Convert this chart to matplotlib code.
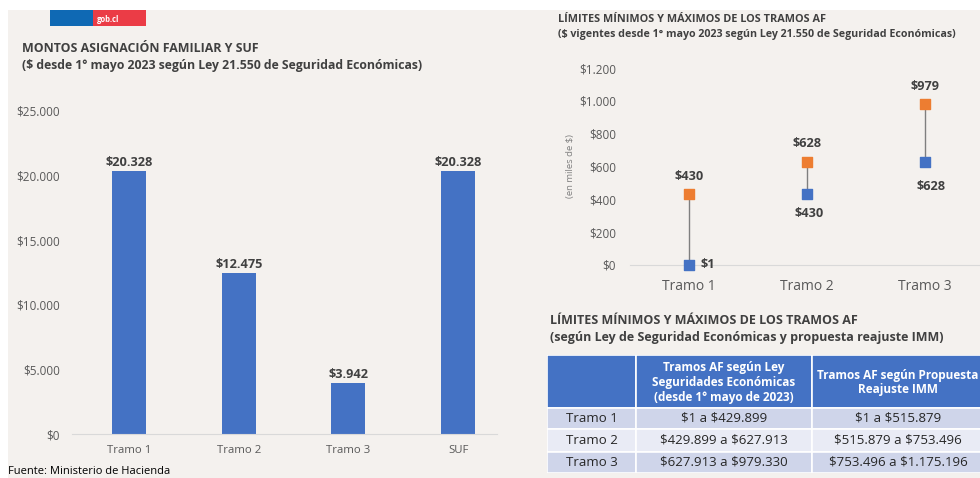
import matplotlib.pyplot as plt
from matplotlib.patches import Rectangle

plt.rcParams['font.family'] = ['Open Sans', 'DejaVu Sans']
plt.rcParams['text.parse_math'] = False

# Left chart: monthly amounts
bar_categories = ["Tramo 1", "Tramo 2", "Tramo 3", "SUF"]
bar_values = [20328, 12475, 3942, 20328]
bar_ticks = [0, 5000, 10000, 15000, 20000, 25000]

# Right chart: min / max limits (thousands of $)
range_categories = ["Tramo 1", "Tramo 2", "Tramo 3"]
range_min = [1, 430, 628]
range_max = [430, 628, 979]
range_ticks = [0, 200, 400, 600, 800, 1000, 1200]

# Table
table_header = [
    "",
    "Tramos AF según Ley\nSeguridades Económicas\n(desde 1° mayo de 2023)",
    "Tramos AF según Propuesta\nReajuste IMM",
]
table_rows = ["Tramo 1", "Tramo 2", "Tramo 3"]
table_ley = ["$1 a $429.899", "$429.899 a $627.913", "$627.913 a $979.330"]
table_imm = ["$1 a $515.879", "$515.879 a $753.496", "$753.496 a $1.175.196"]

BLUE = "#4472c4"
ORANGE = "#ed7d31"
BG = "#f4f1ee"
TITLE = "#404040"
TICK = "#595959"

W, H = 980, 478


def box(x0, y0, x1, y1):
    """Pixel box (top-left origin) -> figure fraction rect."""
    return [x0 / W, 1 - y1 / H, (x1 - x0) / W, (y1 - y0) / H]


def fx(x):
    return x / W


def fy(y):
    return 1 - y / H


def peso(v):
    return "$" + f"{v:,}".replace(",", ".")


fig = plt.figure(figsize=(W / 100, H / 100), dpi=100)
fig.patch.set_facecolor("white")
fig.patches.append(Rectangle((fx(8), 0), 1, fy(10), transform=fig.transFigure,
                             facecolor=BG, edgecolor="none", zorder=-10))

# gob.cl logo
fig.patches.append(Rectangle((fx(50), fy(26)), fx(93) - fx(50), fy(10) - fy(26),
                             transform=fig.transFigure, facecolor="#0f69b4",
                             edgecolor="none"))
fig.patches.append(Rectangle((fx(93), fy(26)), fx(146) - fx(93), fy(10) - fy(26),
                             transform=fig.transFigure, facecolor="#eb3c46",
                             edgecolor="none"))
fig.text(fx(97), fy(19), "gob.cl", color="white", fontsize=5.5,
         fontweight="bold", va="center")

# ---- left chart ----
fig.text(fx(22), fy(48), "MONTOS ASIGNACIÓN FAMILIAR Y SUF",
         fontsize=8.9, fontweight="bold", color=TITLE, va="center")
fig.text(fx(22), fy(66), "($ desde 1° mayo 2023 según Ley 21.550 de Seguridad Económicas)",
         fontsize=8.8, fontweight="bold", color=TITLE, va="center")

ax1 = fig.add_axes(box(72, 111, 497, 434))
ax1.set_facecolor("none")
x1 = range(len(bar_categories))
ax1.bar(x1, bar_values, width=0.31, color=BLUE)
for i, v in enumerate(bar_values):
    ax1.annotate(peso(v), (i, v), xytext=(0, 1.5), textcoords="offset points",
                 ha="center", va="bottom", fontsize=9.2, fontweight="bold",
                 color=TITLE)
ax1.set_xlim(-0.52, 3.355)
ax1.set_ylim(0, 25000)
ax1.set_yticks(bar_ticks, [peso(t) for t in bar_ticks])
ax1.set_xticks(list(x1), bar_categories)
ax1.tick_params(axis="y", length=0, pad=8.5, labelsize=8.5, labelcolor=TICK)
ax1.tick_params(axis="x", length=0, pad=8, labelsize=8.2, labelcolor=TICK)
for s in ["top", "right", "left"]:
    ax1.spines[s].set_visible(False)
ax1.spines["bottom"].set_color("#d9d9d9")

fig.text(fx(8), fy(466), "Fuente: Ministerio de Hacienda", fontsize=8,
         color="black", va="top")

# ---- right chart ----
fig.text(fx(558), fy(19), "LÍMITES MÍNIMOS Y MÁXIMOS DE LOS TRAMOS AF",
         fontsize=7.8, fontweight="bold", color=TITLE, va="center")
fig.text(fx(558), fy(34),
         "($ vigentes desde 1° mayo 2023 según Ley 21.550 de Seguridad Económicas)",
         fontsize=7.7, fontweight="bold", color=TITLE, va="center")

ax2 = fig.add_axes(box(630, 68, 980, 265))
ax2.set_facecolor("none")
x2 = list(range(len(range_categories)))
ax2.vlines(x2, range_min, range_max, color="#7f7f7f", lw=1, zorder=1)
ax2.scatter(x2, range_min, marker="s", s=45, color=BLUE, zorder=3,
            clip_on=False)
ax2.scatter(x2, range_max, marker="s", s=45, color=ORANGE, zorder=3,
            clip_on=False)
for i, v in enumerate(range_max):
    ax2.annotate(peso(v), (i, v), xytext=(0, 13), textcoords="offset points",
                 ha="center", va="center", fontsize=9.2, fontweight="bold",
                 color=TITLE)
min_offsets = [(8, 0, "left"), (2, -14, "center"), (5, -18, "center")]
for i, v in enumerate(range_min):
    dx, dy, ha = min_offsets[i]
    ax2.annotate(peso(v), (i, v), xytext=(dx, dy), textcoords="offset points",
                 ha=ha, va="center", fontsize=9.2, fontweight="bold",
                 color=TITLE)
ax2.set_xlim(-0.5, 2.47)
ax2.set_ylim(0, 1200)
ax2.set_yticks(range_ticks, [peso(t) for t in range_ticks])
ax2.set_xticks(x2, range_categories)
ax2.tick_params(axis="y", length=0, pad=10, labelsize=8.5, labelcolor=TICK)
ax2.tick_params(axis="x", length=0, pad=10, labelsize=10, labelcolor=TICK)
for s in ["top", "right", "left"]:
    ax2.spines[s].set_visible(False)
ax2.spines["bottom"].set_color("#d9d9d9")
ax2.set_ylabel("(en miles de $)", fontsize=6.8, color="#7f7f7f", labelpad=3)

# ---- table ----
fig.text(fx(550), fy(321), "LÍMITES MÍNIMOS Y MÁXIMOS DE LOS TRAMOS AF",
         fontsize=9, fontweight="bold", color=TITLE, va="center")
fig.text(fx(550), fy(338),
         "(según Ley de Seguridad Económicas y propuesta reajuste IMM)",
         fontsize=9, fontweight="bold", color=TITLE, va="center")

ax3 = fig.add_axes(box(547, 355, 984, 473))
ax3.set_axis_off()
col_edges = [0, 89, 265, 437]
row_edges = [0, 53, 74, 97, 118]
ax3.set_xlim(0, 437)
ax3.set_ylim(118, 0)
row_colors = ["#cfd5ea", "#e9ebf5", "#cfd5ea"]
for c in range(3):
    x0, x1_ = col_edges[c], col_edges[c + 1]
    ax3.add_patch(Rectangle((x0, 0), x1_ - x0, row_edges[1], facecolor=BLUE,
                            edgecolor="white", lw=1.2))
    ax3.text((x0 + x1_) / 2, row_edges[1] / 2 + 1, table_header[c],
             ha="center", va="center", color="white", fontsize=8.5,
             fontweight="bold", linespacing=1.15)
    col_vals = [table_rows, table_ley, table_imm][c]
    for r in range(3):
        y0, y1 = row_edges[r + 1], row_edges[r + 2]
        ax3.add_patch(Rectangle((x0, y0), x1_ - x0, y1 - y0,
                                facecolor=row_colors[r], edgecolor="white",
                                lw=1.2))
        ax3.text((x0 + x1_) / 2, (y0 + y1) / 2, col_vals[r], ha="center",
                 va="center", color="#262626", fontsize=9.5)

fig.savefig("out.png", dpi=100)
